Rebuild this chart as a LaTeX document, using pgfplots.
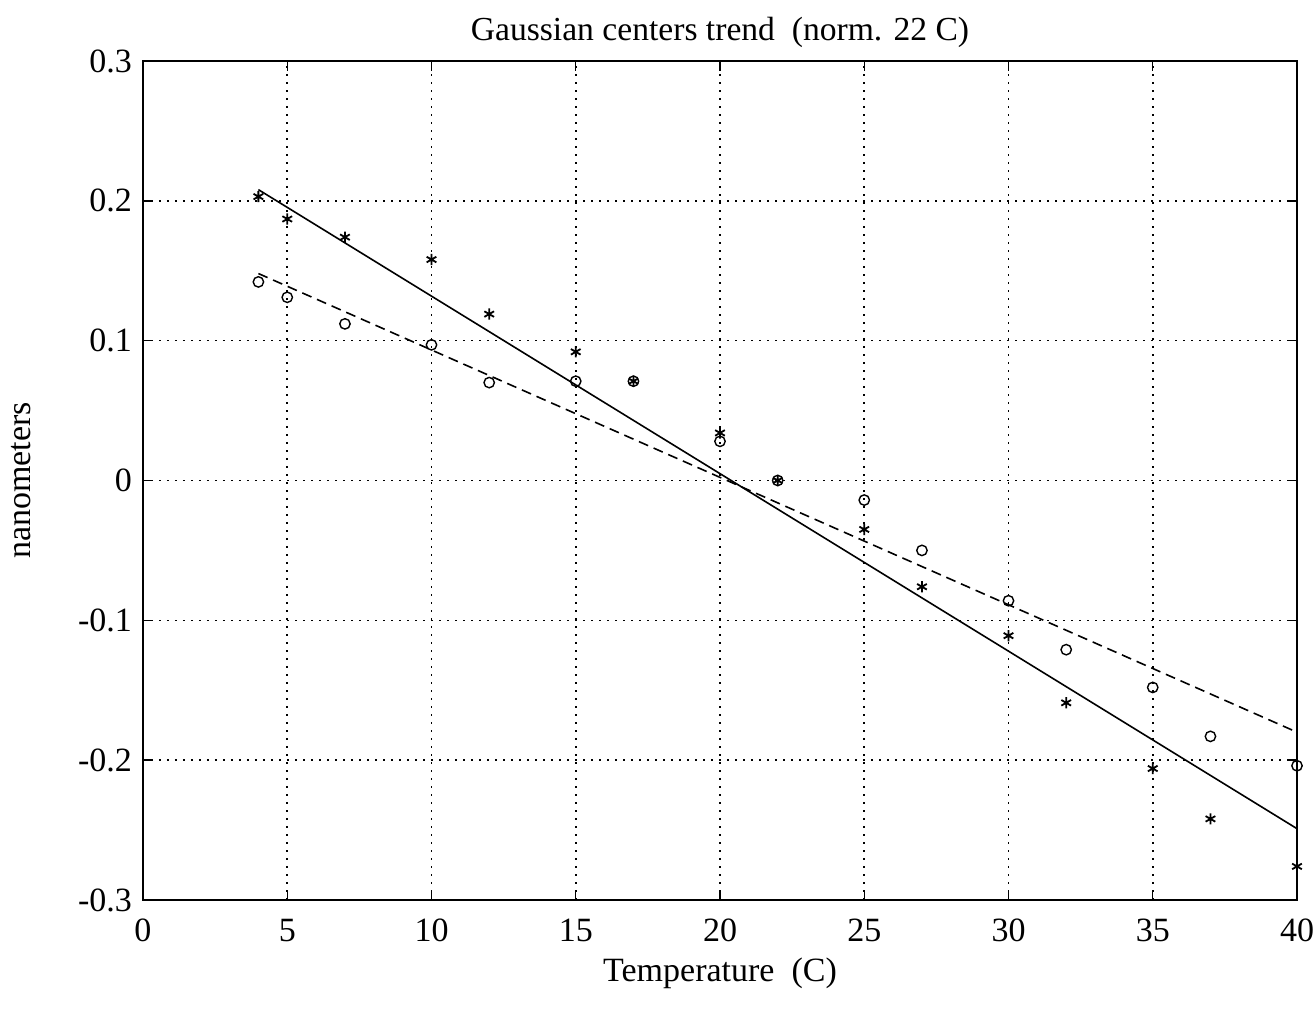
\documentclass[border=0pt]{standalone}
\usepackage{fontspec}
\setmainfont{Liberation Serif}
\usepackage{pgfplots}
\pgfplotsset{compat=1.18}

\begin{document}
\begin{tikzpicture}
  \begin{axis}[
      name=ax,
      scale only axis,
      width=577pt, height=419.5pt,
      xmin=0, xmax=40, ymin=-0.3, ymax=0.3,
      xtick={0,5,...,40},
      ytick={-0.3,-0.2,...,0.3},
      yticklabels={-0.3,-0.2,-0.1,0,0.1,0.2,0.3},
      /pgf/number format/assume math mode=true,
      tick align=inside,
      major tick length=5pt,
      tick style={black, line width=0.7pt},
      axis line style={line width=1pt},
      ticklabel style={font=\fontsize{17}{17}\selectfont},
      xticklabel style={yshift=-6pt},
      yticklabel style={xshift=-2pt},
      grid=major,
      grid style={black, line width=0.8pt, dash pattern=on 0.8pt off 3.2pt},
      title={Gaussian centers trend\ \ (norm. 22 C)},
      title style={font=\fontsize{16.8}{16.8}\selectfont, yshift=-3pt},
      xlabel={Temperature\ \ (C)},
      ylabel={nanometers},
      xlabel style={font=\fontsize{17}{17}\selectfont, yshift=-1pt},
      ylabel style={font=\fontsize{17}{17}\selectfont, yshift=17pt},
    ]
    % fitted lines
    \addplot[black, line width=0.8pt] coordinates {(4,0.208) (40,-0.249)};
    \addplot[black, line width=0.8pt, dash pattern=on 5pt off 3pt] coordinates {(4,0.148) (40,-0.180)};
    % measured points
    \addplot[only marks, mark=asterisk, mark size=2.8pt, black, mark options={line width=0.9pt}] coordinates {
      (4,0.203) (5,0.187) (7,0.174) (10,0.158) (12,0.119) (15,0.092)
      (17,0.071) (20,0.034) (22,0.000) (25,-0.035) (27,-0.076) (30,-0.111)
      (32,-0.159) (35,-0.206) (37,-0.242) (40,-0.276)};
    \addplot[only marks, mark=o, mark size=2.6pt, black, mark options={line width=0.7pt}] coordinates {
      (4,0.142) (5,0.131) (7,0.112) (10,0.097) (12,0.070) (15,0.071)
      (17,0.071) (20,0.028) (22,0.000) (25,-0.014) (27,-0.050) (30,-0.086)
      (32,-0.121) (35,-0.148) (37,-0.183) (40,-0.204)};
  \end{axis}
  \pgfresetboundingbox
  \path ([shift={(-71.5pt,-56pt)}]ax.south west) rectangle ([shift={(9.5pt,30.5pt)}]ax.north east);
\end{tikzpicture}
\end{document}
